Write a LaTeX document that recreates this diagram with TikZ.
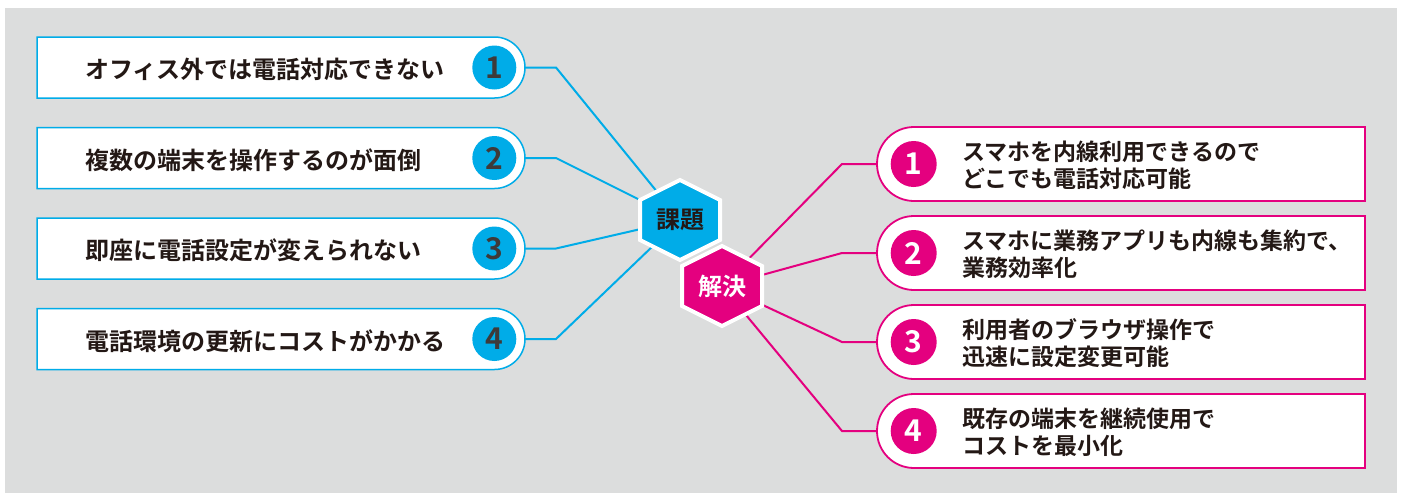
\documentclass[tikz,border=0pt]{standalone}
\usepackage{fontspec}
\setmainfont{Noto Sans CJK JP}[BoldFont={* Bold}]
\usepackage{tikz}
\usetikzlibrary{positioning,shapes.misc}
\pgfdeclarelayer{background}
\pgfsetlayers{background,main}
\definecolor{kblue}{RGB}{0,172,232}
\definecolor{kpink}{RGB}{228,0,127}
\definecolor{bggray}{RGB}{220,221,221}
\definecolor{textblack}{RGB}{35,24,21}
\definecolor{numgray}{RGB}{62,58,57}
\tikzset{pbox/.style = {draw=kblue, line width=1.5pt, fill=white, rounded rectangle, rounded rectangle left arc=none, minimum width=488pt, minimum height=61pt, inner sep=0pt, outer sep=0pt}}
\tikzset{sbox/.style = {draw=kpink, line width=1.8pt, fill=white, rounded rectangle, rounded rectangle right arc=none, minimum width=488pt, minimum height=74pt, inner sep=0pt, outer sep=0pt}}
\tikzset{pnum/.style = {circle, fill=kblue, text=numgray, minimum size=44pt, inner sep=0pt, font=\bfseries\fontsize{30}{30}\selectfont}}
\tikzset{snum/.style = {circle, fill=kpink, text=white, minimum size=46pt, inner sep=0pt, font=\bfseries\fontsize{30}{30}\selectfont}}
\tikzset{ptext/.style = {inner sep=0pt, text=textblack, font=\bfseries\fontsize{24}{24}\selectfont}}
\tikzset{stext/.style = {inner sep=0pt, text=textblack, align=left, font=\bfseries\fontsize{23}{27}\selectfont}}
\tikzset{hexlabel/.style = {inner sep=0pt, font=\bfseries\fontsize{24}{24}\selectfont}}
\tikzset{kadaihex/.style = {fill=kblue, draw=white, line width=4pt}}
\tikzset{kaiketsuhex/.style = {fill=kpink, draw=white, line width=4pt}}
\tikzset{pline/.style = {draw=kblue, line width=2pt}}
\tikzset{sline/.style = {draw=kpink, line width=2pt}}

\begin{document}
\begin{tikzpicture}[x=1pt, y=-1pt, node distance=1cm]
  \useasboundingbox (0,0) rectangle (1403,493);

  % problems
  \node [pbox] (p1) at (281,67.5) {};
  \node [pbox, below=29.5pt of p1] (p2) {};
  \node [pbox, below=29.5pt of p2] (p3) {};
  \node [pbox, below=29.5pt of p3] (p4) {};

  \node [pnum, left=8.5pt of p1.east] (pn1) {1};
  \node [pnum, left=8.5pt of p2.east] (pn2) {2};
  \node [pnum, left=8.5pt of p3.east] (pn3) {3};
  \node [pnum, left=8.5pt of p4.east] (pn4) {4};

  \node [ptext, right=48pt of p1.west, yshift=-2pt] (pt1) {オフィス外では電話対応できない};
  \node [ptext, right=48pt of p2.west, yshift=-2pt] (pt2) {複数の端末を操作するのが面倒};
  \node [ptext, right=48pt of p3.west, yshift=-2pt] (pt3) {即座に電話設定が変えられない};
  \node [ptext, right=48pt of p4.west, yshift=-2pt] (pt4) {電話環境の更新にコストがかかる};

  % solutions
  \node [sbox] (s1) at (1121,164) {};
  \node [sbox, below=15pt of s1] (s2) {};
  \node [sbox, below=15pt of s2] (s3) {};
  \node [sbox, below=15pt of s3] (s4) {};

  \node [snum, right=13.5pt of s1.west] (sn1) {1};
  \node [snum, right=13.5pt of s2.west] (sn2) {2};
  \node [snum, right=13.5pt of s3.west] (sn3) {3};
  \node [snum, right=13.5pt of s4.west] (sn4) {4};

  \node [stext, right=85pt of s1.west, yshift=-1.5pt] (st1) {スマホを内線利用できるので\\どこでも電話対応可能};
  \node [stext, right=85pt of s2.west, yshift=-1.5pt] (st2) {スマホに業務アプリも内線も集約で、\\業務効率化};
  \node [stext, right=85pt of s3.west, yshift=-1.5pt] (st3) {利用者のブラウザ操作で\\迅速に設定変更可能};
  \node [stext, right=85pt of s4.west, yshift=-1.5pt] (st4) {既存の端末を継続使用で\\コストを最小化};

  % hexagons
  \coordinate (kadai) at (680,220);
  \coordinate (kaiketsu) at (722,286);
  \filldraw [kadaihex] (kadai) +(0,-40) -- +(40,-20) -- +(40,20) -- +(0,40) -- +(-40,20) -- +(-40,-20) -- cycle;
  \node [hexlabel, text=textblack] (kadailabel) at (kadai) {課題};
  \filldraw [kaiketsuhex] (kaiketsu) +(0,-40) -- +(40,-20) -- +(40,20) -- +(0,40) -- +(-40,20) -- +(-40,-20) -- cycle;
  \node [hexlabel, text=white] (kaiketsulabel) at (kaiketsu) {解決};

  \begin{pgfonlayer}{background}
    \fill [bggray] (5,8) rectangle (1397,493);
    \draw [pline] (p1.east) -- ++(31,0) -- (kadai);
    \draw [pline] (p2.east) -- ++(31,0) -- (kadai);
    \draw [pline] (p3.east) -- ++(31,0) -- (kadai);
    \draw [pline] (p4.east) -- ++(31,0) -- (kadai);
    \draw [sline] (s1.west) -- ++(-35,0) -- (kaiketsu);
    \draw [sline] (s2.west) -- ++(-35,0) -- (kaiketsu);
    \draw [sline] (s3.west) -- ++(-35,0) -- (kaiketsu);
    \draw [sline] (s4.west) -- ++(-35,0) -- (kaiketsu);
  \end{pgfonlayer}
\end{tikzpicture}
\end{document}
